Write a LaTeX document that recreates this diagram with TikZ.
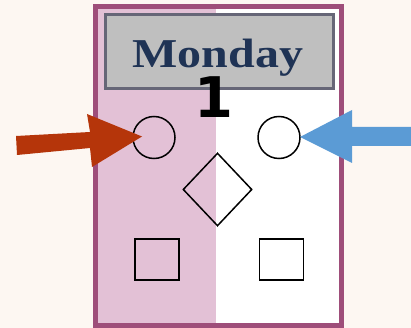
\documentclass[tikz,border=0pt]{standalone}
\usepackage{fontspec}
\usetikzlibrary{shapes.geometric}
\newfontfamily\titlefont[FakeStretch=1.17]{Liberation Serif Bold}
\newfontfamily\numfont{DejaVu Sans Bold}
\definecolor{bgc}{HTML}{FDF7F2}
\definecolor{framec}{HTML}{9E4E7A}
\definecolor{pinkc}{HTML}{E3C1D6}
\definecolor{grayc}{HTML}{BFBFBF}
\definecolor{boxc}{HTML}{666677}
\definecolor{navyc}{HTML}{1F3355}
\definecolor{redc}{HTML}{B5350A}
\definecolor{bluec}{HTML}{5B9BD5}
\tikzset{
  shapeline/.style={draw=black,line width=1.5pt},
  circ/.style={shapeline,circle,minimum size=42pt,inner sep=0pt},
  sq/.style={shapeline,rectangle,minimum width=44pt,minimum height=41pt,inner sep=0pt},
  dia/.style={shapeline,diamond,minimum width=69pt,minimum height=73pt,inner sep=0pt},
}
\begin{document}
\begin{tikzpicture}[x=1pt,y=-1pt]
\useasboundingbox (0,0) rectangle (411,328);
\fill[bgc] (0,0) rectangle (411,328);
\fill[white] (96,6) rectangle (341,325);
\fill[pinkc] (96,6) rectangle (216,325);
\draw[framec,line width=5pt] (95.5,6.5) rectangle (341,325);
\node[draw=boxc,fill=grayc,line width=3pt,minimum width=228pt,minimum height=74pt,inner sep=0pt] (title) at (219,52) {};
\node[anchor=base,inner sep=0pt,text=navyc,font=\titlefont\fontsize{41}{41}\selectfont] (mon) at (218,68) {Monday};
\node[anchor=base,inner sep=0pt,font=\numfont\fontsize{56}{56}\selectfont] (num) at (213.5,118) {1};
\node[circ] (lc) at (154,137.5) {};
\node[circ] (rc) at (279,137.5) {};
\node[dia] (d) at (217.5,189.5) {};
\node[sq] (ls) at (157,259.5) {};
\node[sq] (rs) at (281.5,259.5) {};
\coordinate (rtip) at (142,136.5);
\coordinate (btip) at (300,137);
\fill[redc] (16,136) -- (90,132) -- (87,114) -- (rtip) -- (92,167) -- (90,148) -- (17,155) -- cycle;
\fill[bluec] (411,127) -- (352,127) -- (352,110) -- (btip) -- (352,163) -- (352,146) -- (411,146) -- cycle;
\end{tikzpicture}
\end{document}
